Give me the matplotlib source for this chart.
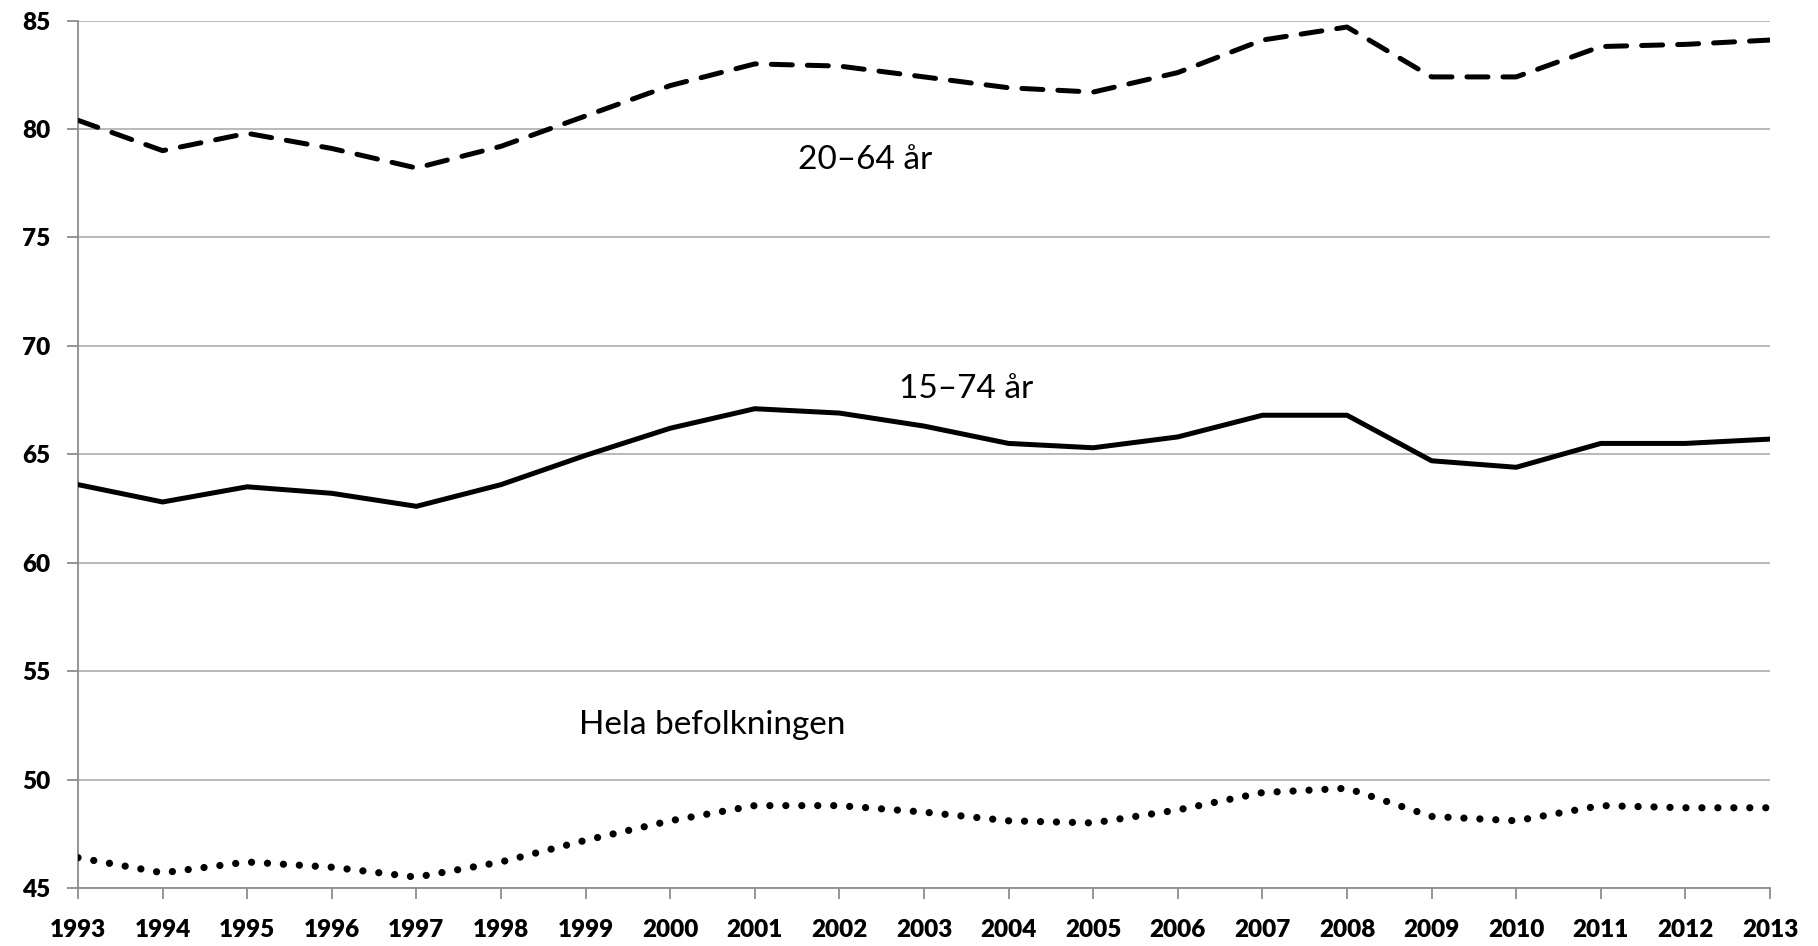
import numpy as np
import matplotlib.pyplot as plt

years = list(range(1993, 2014))

# sysselsättningsgrad, procent
ar_20_64 = [80.4, 79.0, 79.8, 79.1, 78.2, 79.2, 80.6, 82.0, 83.0, 82.9, 82.4,
            81.9, 81.7, 82.6, 84.1, 84.7, 82.4, 82.4, 83.8, 83.9, 84.1]
ar_15_74 = [63.6, 62.8, 63.5, 63.2, 62.6, 63.6, 64.95, 66.2, 67.1, 66.9, 66.3,
            65.5, 65.3, 65.8, 66.8, 66.8, 64.7, 64.4, 65.5, 65.5, 65.7]
hela_bef = [46.4, 45.7, 46.2, 45.96, 45.5, 46.2, 47.2, 48.1, 48.8, 48.8, 48.5,
            48.1, 48.0, 48.6, 49.4, 49.6, 48.3, 48.1, 48.8, 48.7, 48.7]

labels = ["20\u201364 år", "15\u201374 år", "Hela befolkningen"]
label_pos = [(2002.3, 78.55), (2003.5, 68.0), (2000.5, 52.5)]

yticks = list(range(45, 90, 5))

plt.rcParams['font.family'] = ['Lato', 'DejaVu Sans']

fig = plt.figure(figsize=(18.18, 9.46), dpi=100)
ax = fig.add_axes([0.0429, 0.0613, 0.9307, 0.917])

ax.plot(years, ar_20_64, color='black', lw=3.6, linestyle=(0, (4.2, 3.0)),
        dash_capstyle='round', zorder=3)
ax.plot(years, ar_15_74, color='black', lw=3.6, zorder=3)
ax.plot(years, hela_bef, color='black', lw=5.2, linestyle=(0, (0.01, 2.2)),
        dash_capstyle='round', zorder=3)

for txt, (x, y) in zip(labels, label_pos):
    ax.text(x, y, txt, ha='center', va='center', fontsize=24)

ax.set_xlim(1993, 2013)
ax.set_ylim(45, 85)
ax.set_xticks(years)
ax.set_yticks(yticks)
ax.grid(axis='y', color='#b3b3b3', lw=1.3)
ax.set_axisbelow(True)

for s in ['top', 'right']:
    ax.spines[s].set_visible(False)
for s in ['left', 'bottom']:
    ax.spines[s].set_color('#8c8c8c')
    ax.spines[s].set_linewidth(1.3)

ax.tick_params(axis='both', colors='#8c8c8c', width=1.3, length=8,
               labelcolor='black', labelsize=17.5)
ax.tick_params(axis='y', pad=12)
ax.tick_params(axis='x', pad=14)
for lab in ax.get_xticklabels() + ax.get_yticklabels():
    lab.set_fontweight('heavy')

fig.savefig('out.png', dpi=100)
